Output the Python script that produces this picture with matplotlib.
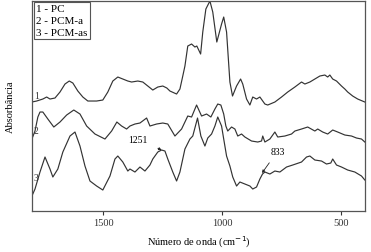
import numpy as np
import matplotlib.pyplot as plt

plt.rcParams['font.family'] = ['Liberation Serif', 'DejaVu Serif']

# wavenumber (cm-1) and absorbance (a.u., curves already offset)
wn_pc = [1800, 1780, 1754, 1738, 1724, 1703, 1682, 1661, 1643, 1628, 1607, 1586, 1565,
         1528, 1502, 1481, 1460, 1439, 1418, 1397, 1381, 1355, 1334, 1313, 1292, 1271,
         1250, 1233, 1220, 1192, 1178, 1166, 1157, 1145, 1129, 1115, 1107, 1091, 1082,
         1069, 1052, 1040, 1023, 1003, 994, 982, 968, 957, 940, 923, 914, 898, 884, 872,
         856, 842, 821, 809, 779, 751, 725, 695, 667, 653, 632, 611, 590, 569, 557, 548,
         536, 520, 499, 485, 473, 452, 431, 401]
ab_pc = [109, 110, 112, 114, 112, 113, 119, 127, 130, 128, 120, 114, 110,
         110, 111, 119, 130, 134, 132, 130, 129, 130, 129, 125, 121, 124,
         125, 123, 120, 117, 122, 135, 145, 165, 167, 164, 165, 157, 179,
         202, 210, 199, 169, 187, 194, 179, 129, 115, 125, 132, 127, 112, 106, 114,
         112, 114, 107, 106, 109, 114, 119, 124, 129, 127, 129, 132, 135, 136, 134, 136,
         132, 130, 125, 122, 119, 115, 112, 109]

wn_pcm_a = [1800, 1787, 1775, 1766, 1754, 1733, 1708, 1682, 1654, 1624, 1598, 1570, 1535,
            1493, 1465, 1443, 1423, 1402, 1388, 1367, 1346, 1318, 1304, 1276, 1250, 1229,
            1199, 1171, 1145, 1129, 1108, 1087, 1066, 1048, 1031, 1019, 1006, 994, 985,
            977, 961, 947, 935, 919, 905, 877, 851, 835, 830, 821, 800, 779, 767, 737,
            709, 695, 667, 641, 611, 599, 578, 557, 536, 515, 485, 457, 436, 415, 401]
ab_pcm_a = [72, 80, 94, 99, 99, 92, 84, 89, 96, 101, 97, 85, 77,
            72, 80, 89, 85, 82, 85, 87, 88, 93, 85, 87, 88, 87,
            75, 82, 95, 94, 106, 95, 97, 94, 102, 107, 106, 97, 85,
            80, 84, 82, 75, 77, 74, 70, 69, 70, 75, 69, 72, 79, 74, 75,
            77, 80, 82, 84, 80, 82, 79, 77, 81, 79, 76, 75, 73, 72, 69]

wn_pcm_as = [1800, 1787, 1766, 1745, 1724, 1712, 1691, 1670, 1640, 1619, 1598, 1577, 1556,
             1528, 1502, 1472, 1451, 1439, 1418, 1397, 1388, 1367, 1346, 1325, 1304, 1292,
             1271, 1255, 1241, 1229, 1208, 1192, 1178, 1157, 1136, 1124, 1104, 1090, 1073,
             1061, 1045, 1031, 1019, 1003, 994, 982, 968, 956, 940, 926, 905, 884, 872,
             856, 842, 831, 821, 800, 779, 758, 730, 704, 667, 646, 632, 611, 583, 562,
             544, 536, 520, 499, 473, 443, 415, 401]
ab_pcm_as = [15, 22, 39, 54, 42, 34, 42, 59, 75, 79, 65, 45, 30,
             25, 21, 35, 52, 55, 49, 40, 42, 39, 44, 40, 46, 52,
             59, 61, 60, 52, 39, 30, 39, 62, 72, 75, 93, 75, 65,
             73, 77, 85, 94, 85, 72, 55, 45, 34, 25, 29, 27, 25, 22,
             24, 32, 37, 39, 37, 40, 39, 44, 46, 49, 54, 55, 51, 50, 47,
             48, 52, 46, 44, 41, 39, 35, 31]

legend_text = "1 - PC\n2 - PCM-a\n3 - PCM-as"

fig = plt.figure(figsize=(3.71, 2.53), dpi=100)
ax = fig.add_axes([0.086, 0.162, 0.898, 0.830])

for wn, ab in [(wn_pc, ab_pc), (wn_pcm_a, ab_pcm_a), (wn_pcm_as, ab_pcm_as)]:
    ax.plot(wn, ab, color='#333333', lw=0.85)

ax.set_xlim(1800, 400)
ax.set_ylim(0, 210)
ax.set_xticks([1500, 1000, 500])
ax.set_yticks([])
ax.tick_params(axis='x', direction='out', length=3, width=0.8, labelsize=7.5,
               pad=2, colors='#333333')
for s in ax.spines.values():
    s.set_color('#555555')
    s.set_linewidth(0.9)

ax.set_xlabel('Número de onda (cm$^{-1}$)', fontsize=7.5, labelpad=5)
ax.set_ylabel('Absorbância', fontsize=7.5, labelpad=12)

# curve numbers
for lbl, yv in [('1', 116), ('2', 81), ('3', 34)]:
    ax.text(1792, yv, lbl, fontsize=7, ha='left', va='center', color='#333333')

ax.text(0.012, 0.985, legend_text, transform=ax.transAxes, fontsize=8,
        va='top', ha='left', linespacing=1.4,
        bbox=dict(boxstyle='square,pad=0.2', fc='white', ec='#555555', lw=0.8))

ax.annotate('1251', xy=(1255, 61), xytext=(1355, 72), fontsize=7,
            ha='center', va='center',
            arrowprops=dict(arrowstyle='-|>', color='#222222', lw=0.6,
                            mutation_scale=4, shrinkA=6, shrinkB=0))
ax.annotate('833', xy=(833, 38), xytext=(767, 60), fontsize=7,
            ha='center', va='center',
            arrowprops=dict(arrowstyle='-|>', color='#222222', lw=0.6,
                            mutation_scale=4, shrinkA=4, shrinkB=0))

fig.savefig('out.png', dpi=100)
